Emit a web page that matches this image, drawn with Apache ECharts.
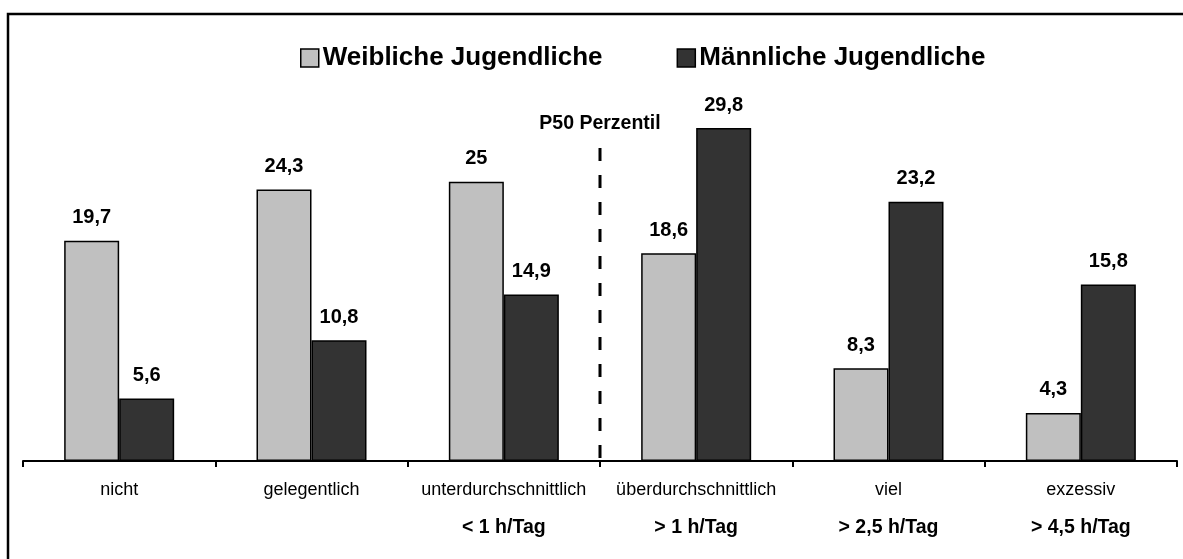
<!DOCTYPE html>
<html>
<head>
<meta charset="utf-8">
<script src="https://cdn.jsdelivr.net/npm/echarts@6/dist/echarts.min.js"></script>
<style>
html,body{margin:0;padding:0;background:#fff;}
#chart{width:1183px;height:559px;}
</style>
</head>
<body>
<div id="chart"></div>
<script>
const categories = ['nicht', 'gelegentlich', 'unterdurchschnittlich', 'überdurchschnittlich', 'viel', 'exzessiv'];
const subLabels = ['', '', '< 1 h/Tag', '> 1 h/Tag', '> 2,5 h/Tag', '> 4,5 h/Tag'];
const seriesNames = ['Weibliche Jugendliche', 'Männliche Jugendliche'];
const female = [19.7, 24.3, 25, 18.6, 8.3, 4.3];
const male = [5.6, 10.8, 14.9, 29.8, 23.2, 15.8];
const p50Label = 'P50 Perzentil';
const p50Line = [[3, 28.0], [3, -0.63]];

const FONT = '"Liberation Sans", Arial, sans-serif';
const chart = echarts.init(document.getElementById('chart'), null, {renderer: 'canvas'});

const valueLabel = {
  show: true,
  position: 'top',
  distance: 13,
  fontFamily: FONT,
  fontWeight: 'bold',
  fontSize: 20,
  color: '#000',
  formatter: p => String(p.value).replace('.', ',')
};

chart.setOption({
  animation: false,
  backgroundColor: '#fff',
  textStyle: {fontFamily: FONT},
  graphic: [{
    type: 'rect',
    z: -10,
    shape: {x: 8, y: 14, width: 1300, height: 700},
    style: {fill: 'none', stroke: '#000', lineWidth: 2.5}
  }],
  legend: {
    data: seriesNames,
    left: 295,
    top: 40,
    itemWidth: 18,
    itemHeight: 18,
    itemGap: 74,
    icon: 'rect',
    textStyle: {fontFamily: FONT, fontWeight: 'bold', fontSize: 26, color: '#000', padding: [0, 0, 0, -1]},
    itemStyle: {borderColor: '#000', borderWidth: 1.5}
  },
  grid: {left: 23, right: 6, top: 14, bottom: 98, containLabel: false},
  xAxis: [{
    type: 'category',
    data: categories,
    axisLine: {lineStyle: {color: '#000', width: 2}},
    axisTick: {show: true, length: 6, lineStyle: {color: '#000', width: 2}},
    axisLabel: {
      margin: 10,
      interval: 0,
      formatter: (v, i) => subLabels[i] ? '{a|' + v + '}\n{b|' + subLabels[i] + '}' : '{a|' + v + '}',
      rich: {
        a: {fontFamily: FONT, fontSize: 18, color: '#000', lineHeight: 38},
        b: {fontFamily: FONT, fontSize: 19.5, fontWeight: 'bold', color: '#000', lineHeight: 38}
      }
    }
  }, {
    type: 'value',
    min: 0,
    max: 6,
    show: false
  }],
  yAxis: {
    type: 'value',
    min: 0,
    max: 40,
    show: false,
    splitLine: {show: false}
  },
  series: [{
    name: seriesNames[0],
    type: 'bar',
    data: female,
    barWidth: 55,
    barGap: '0%',
    itemStyle: {color: '#c0c0c0', borderColor: '#000', borderWidth: 1.5},
    label: valueLabel
  }, {
    name: seriesNames[1],
    type: 'bar',
    data: male,
    barWidth: 55,
    barGap: '0%',
    itemStyle: {color: '#333333', borderColor: '#000', borderWidth: 1.5},
    label: valueLabel
  }, {
    name: 'P50',
    type: 'line',
    xAxisIndex: 1,
    clip: false,
    silent: true,
    symbol: 'circle',
    symbolSize: 0,
    showSymbol: true,
    lineStyle: {color: '#000', width: 3, type: [13, 14]},
    data: [{
      value: p50Line[0],
      label: {
        show: true,
        position: 'top',
        distance: 14,
        formatter: p50Label,
        fontFamily: FONT,
        fontWeight: 'bold',
        fontSize: 19.5,
        color: '#000'
      }
    }, {value: p50Line[1]}],
    z: 5
  }]
});
</script>
</body>
</html>
